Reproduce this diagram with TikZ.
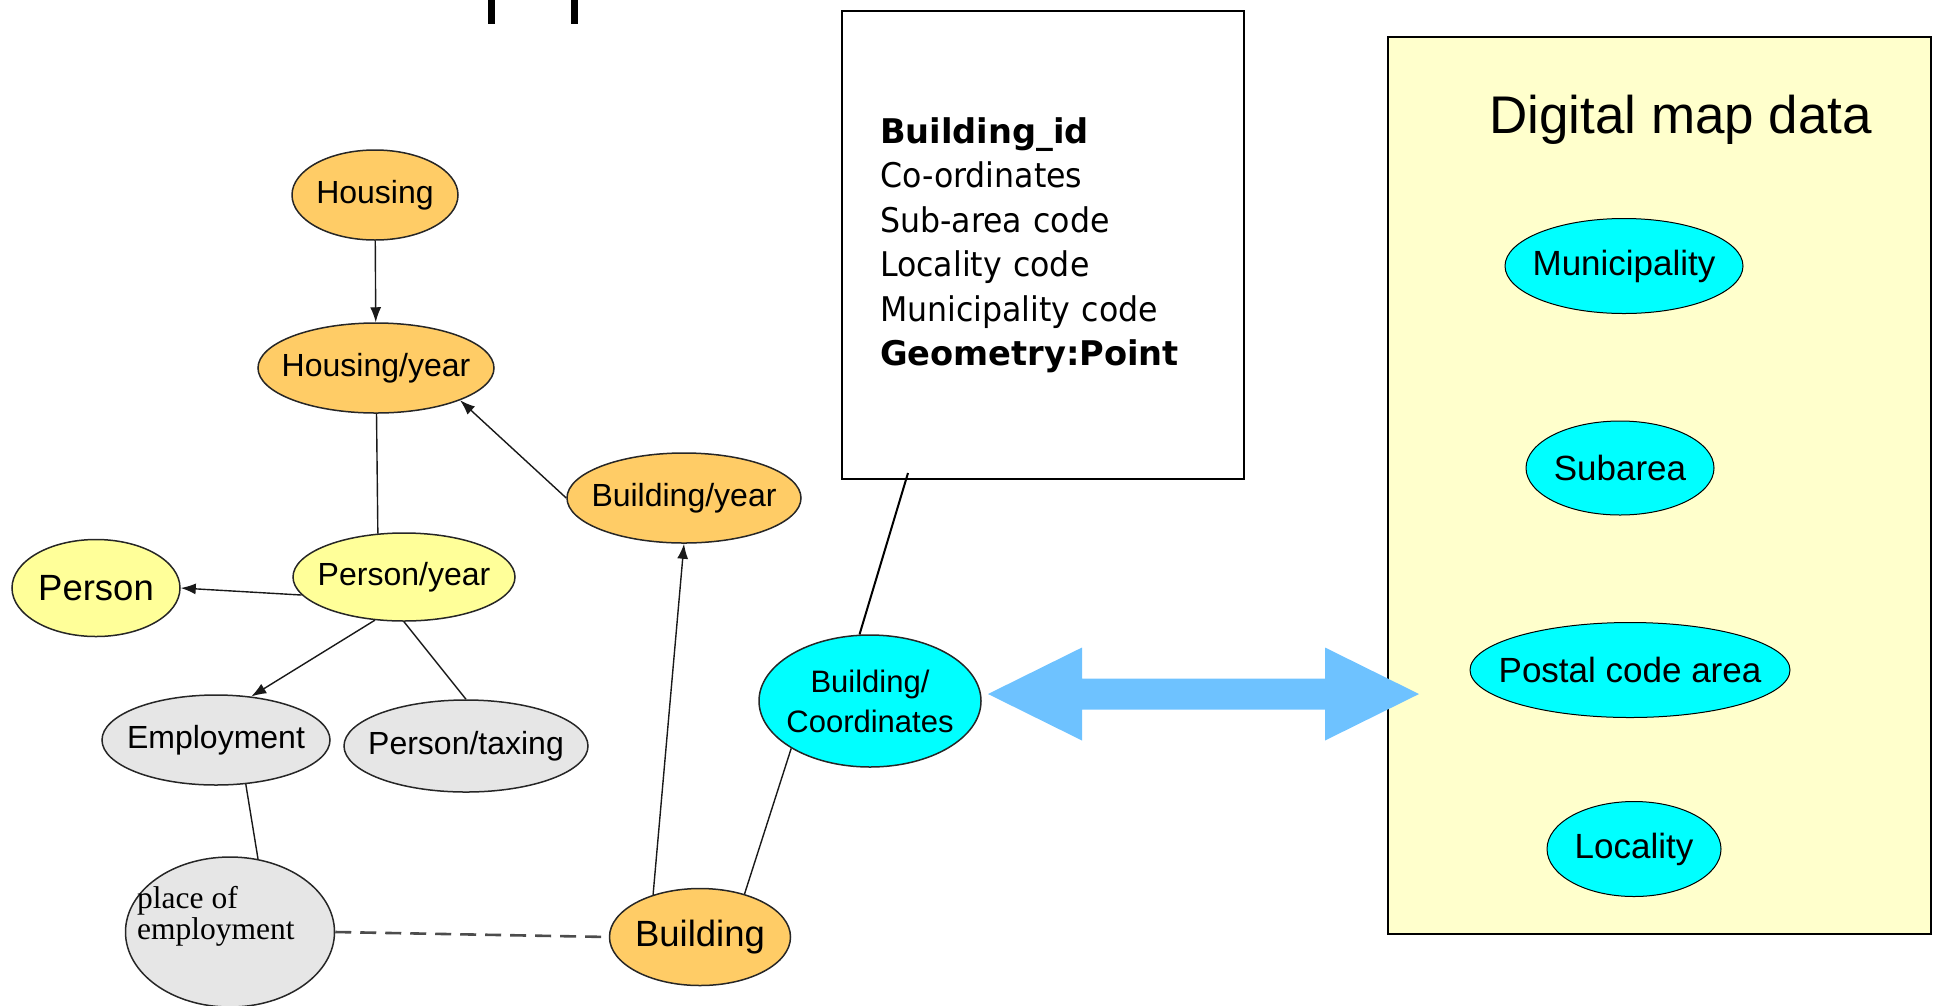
\documentclass[tikz,border=0pt]{standalone}
\usepackage{fontspec}
\setmainfont{Liberation Sans}
\newfontfamily\placefont{Liberation Serif}
\newfontfamily\attrfont[FakeStretch=0.93,BoldFeatures={FakeStretch=0.99}]{DejaVu Sans}
\usetikzlibrary{shapes.geometric,arrows.meta}
\definecolor{housingorange}{HTML}{FFCC66}
\definecolor{personyellow}{HTML}{FFFF99}
\definecolor{workgray}{HTML}{E6E6E6}
\definecolor{mapcyan}{HTML}{00FFFF}
\definecolor{mappanel}{HTML}{FFFFCC}
\definecolor{linkblue}{HTML}{6EC2FF}

\begin{document}
\begin{tikzpicture}[x=1pt,y=-1pt,
        entity/.style={ellipse,draw=black!85,line width=1.5pt,inner sep=-100pt,font=\fontsize{32}{36}\selectfont},
        bigtext/.style={font=\fontsize{36.5}{40}\selectfont},
        mapentity/.style={ellipse,draw=black,line width=1pt,fill=mapcyan,inner sep=-100pt,font=\fontsize{35}{40}\selectfont},
        link/.style={line width=1.4pt,black!90},
        arrowlink/.style={link,-{Latex[length=15pt,width=11pt]}}]
        \useasboundingbox (0,0) rectangle (1934,1005);
        \fill (488,0) rectangle (495,24);
        \fill (571,0) rectangle (578,24);

        \node[entity,fill=housingorange,minimum width=166,minimum height=90] (housing) at (375,195) {Housing};
        \node[entity,fill=housingorange,minimum width=236,minimum height=90] (hyear) at (376,368) {Housing/year};
        \node[entity,fill=housingorange,minimum width=234,minimum height=90] (byear) at (684,498) {Building/year};
        \node[entity,fill=personyellow,minimum width=222,minimum height=88] (pyear) at (404,577) {Person/year};
        \node[entity,bigtext,fill=personyellow,minimum width=168,minimum height=97] (person) at (96,588) {Person};
        \node[entity,fill=workgray,minimum width=228,minimum height=90] (employ) at (216,740) {Employment};
        \node[entity,fill=workgray,minimum width=244,minimum height=92] (ptax) at (466,746) {Person/taxing};
        \node[entity,fill=workgray,minimum width=209,minimum height=150] (place) at (230,932) {};
        \node[anchor=north west,inner sep=0pt,align=left,font=\placefont\fontsize{31.5}{31}\selectfont] (placetext) at (137,886) {place of\\employment};
        \node[entity,bigtext,fill=housingorange,minimum width=181,minimum height=97] (bldg) at (700,937) {Building};
        \node[entity,fill=mapcyan,align=center,minimum width=222,minimum height=132,font=\fontsize{31}{40}\selectfont] (bcoord) at (870,701) {Building/\\Coordinates};

        \node[draw=black,line width=1.6pt,minimum width=402,minimum height=468,text width=326,inner xsep=38pt,align=left,font=\attrfont\fontsize{34}{44.5}\selectfont] (attrbox) at (1043,245) {\textbf{Building\_id}\\Co-ordinates\\Sub-area code\\Locality code\\Municipality code\\\textbf{Geometry:Point}};
        \coordinate (boxfoot) at (908,473);

        \node[draw=black,line width=1.8pt,fill=mappanel,minimum width=543,minimum height=897,inner sep=0pt] (panel) at (1659.5,485.5) {};
        \node[anchor=base west,inner sep=0pt,font=\fontsize{53}{60}\selectfont] (maptitle) at (1489,133) {Digital map data};
        \node[mapentity,minimum width=238,minimum height=95] (muni) at (1624,266) {Municipality};
        \node[mapentity,minimum width=188,minimum height=94] (subarea) at (1620,468) {Subarea};
        \node[mapentity,minimum width=320,minimum height=95] (postal) at (1630,670) {Postal code area};
        \node[mapentity,minimum width=174,minimum height=95] (locality) at (1634,849) {Locality};

        \draw[arrowlink] (housing) -- (hyear);
        \draw[arrowlink] (byear.west) -- (hyear.-21);
        \draw[link] (hyear) -- (pyear.121);
        \draw[arrowlink] (pyear.190) -- (person.east);
        \draw[arrowlink] (pyear.236) -- (employ.51);
        \draw[link] (pyear.south) -- (ptax.north);
        \draw[link] (employ.-56) -- (place.69);
        \draw[line width=2.6pt,black!70,dash pattern=on 16pt off 9pt] (place.east) -- (bldg.west);
        \draw[arrowlink] (bldg.138) -- (byear.south);
        \draw[link] (bldg.44) -- (bcoord.211);
        \draw[line width=2pt] (bcoord.99) -- (boxfoot);

        \coordinate (arrowleft) at (988,694);
        \coordinate (arrowright) at (1419,694);
        \fill[linkblue] (arrowleft) -- ++(94,-46.5) -- ++(0,31) -- ++(243,0) -- ++(0,-31) -- (arrowright)
            -- ++(-94,46.5) -- ++(0,-31) -- ++(-243,0) -- ++(0,31) -- cycle;
\end{tikzpicture}
\end{document}
